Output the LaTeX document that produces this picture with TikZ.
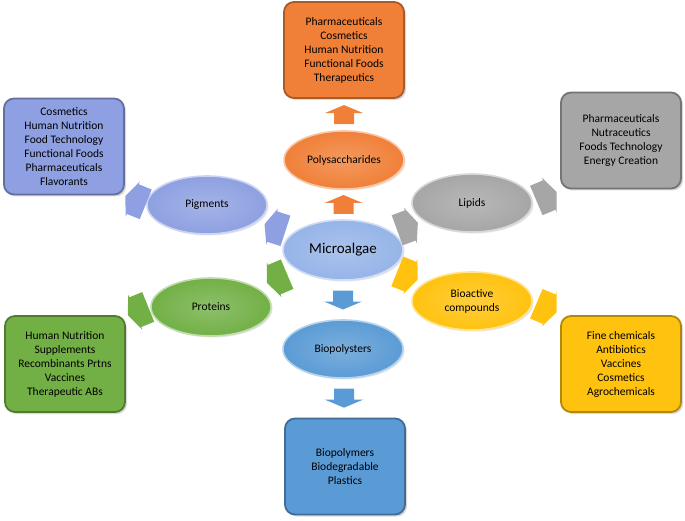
\documentclass[tikz,border=0pt]{standalone}
\usepackage{fontspec}
\setmainfont{Carlito}
\usepackage{xcolor}
\usetikzlibrary{shapes.geometric, shadows, calc}

\definecolor{orangeA}{RGB}{240,128,56}
\definecolor{violetA}{RGB}{142,160,225}
\definecolor{grayA}{RGB}{166,166,166}
\definecolor{greenA}{RGB}{114,176,70}
\definecolor{yellowA}{RGB}{255,194,14}
\definecolor{blueA}{RGB}{91,155,213}
\definecolor{skyA}{RGB}{150,180,232}

\begin{document}
\begin{tikzpicture}[x=1pt, y=-1pt,
    topic/.style={ellipse, minimum width=120, minimum height=58, inner sep=0pt, align=center,
      font=\fontsize{11.5}{14}\selectfont, draw=#1!45!white, line width=1.6pt,
      inner color=#1!80!white, outer color=#1,
      drop shadow={opacity=0.2, shadow xshift=1.5pt, shadow yshift=-1.5pt}},
    appbox/.style={rectangle, rounded corners=10pt, minimum width=120, minimum height=96,
      inner sep=2pt, align=center, font=\fontsize{11.5}{14}\selectfont, fill=#1,
      draw=#1!70!black, line width=1.8pt,
      drop shadow={opacity=0.3, shadow xshift=2pt, shadow yshift=-2pt}},
    vflow/.pic={\fill (-9.5,-10) -- (1.5,-10) -- (1.5,-19) -- (9.5,0)
      -- (1.5,19) -- (1.5,10) -- (-9.5,10) -- cycle;},
    dflow/.pic={\fill (-11,-16) -- (3,-16) -- (3,-19) -- (11,0)
      -- (3,19) -- (3,16) -- (-11,16) -- cycle;}]
  \useasboundingbox (0,0) rectangle (685,521);
  % Centro e produtos
  \node[topic=skyA, font=\fontsize{15}{18}\selectfont, minimum height=60] (micro) at (343,250) {Microalgae};
  \node[topic=orangeA] (poly) at (344,160) {Polysaccharides};
  \node[topic=violetA] (pig) at (207,205) {Pigments};
  \node[topic=grayA] (lip) at (472,203) {Lipids};
  \node[topic=greenA] (prot) at (211,307) {Proteins};
  \node[topic=yellowA] (bio) at (472,301) {Bioactive\\compounds};
  \node[topic=blueA] (bpol) at (343,349) {Biopolysters};
  % Aplicacoes
  \node[appbox=orangeA] (polyapp) at (344,50) {Pharmaceuticals\\Cosmetics\\Human Nutrition\\Functional Foods\\Therapeutics};
  \node[appbox=violetA] (pigapp) at (64,146.5) {Cosmetics\\Human Nutrition\\Food Technology\\Functional Foods\\Pharmaceuticals\\Flavorants};
  \node[appbox=grayA] (lipapp) at (621,140.5) {Pharmaceuticals\\Nutraceutics\\Foods Technology\\Energy Creation};
  \node[appbox=greenA] (protapp) at (65,364) {Human Nutrition\\Supplements\\Recombinants Prtns\\Vaccines\\Therapeutic ABs};
  \node[appbox=yellowA] (bioapp) at (621,364) {Fine chemicals\\Antibiotics\\Vaccines\\Cosmetics\\Agrochemicals};
  \node[appbox=blueA] (bpolapp) at (345,466.5) {Biopolymers\\Biodegradable\\Plastics};
  % Setas verticais
  \pic[fill=orangeA, rotate=90] (upa) at ($(micro.north)!0.5!(poly.south)$) {vflow};
  \pic[fill=orangeA, rotate=90] (upb) at ($(poly.north)!0.5!(polyapp.south)$) {vflow};
  \pic[fill=blueA, rotate=-90] (downa) at ($(micro.south)!0.5!(bpol.north)$) {vflow};
  \pic[fill=blueA, rotate=-90] (downb) at ($(bpol.south)!0.5!(bpolapp.north)$) {vflow};
  % Setas diagonais
  \foreach \dst/\ang/\col in {pig/162/violetA, prot/203/greenA, lip/20/grayA, bio/-22/yellowA}
    \pic[fill=\col, rotate=\ang] (to\dst) at ($(micro)!0.5!(\dst)$) {dflow};
  \pic[fill=violetA, rotate=158] (pigout) at ($(pig.west)!0.5!(pigapp.south east)$) {dflow};
  \pic[fill=greenA, rotate=202] (protout) at ($(prot.west)!0.5!(protapp.north east)$) {dflow};
  \pic[fill=grayA, rotate=23] (lipout) at ($(lip.east)!0.5!(lipapp.south west)$) {dflow};
  \pic[fill=yellowA, rotate=-23] (bioout) at ($(bio.east)!0.5!(bioapp.north west)$) {dflow};
\end{tikzpicture}
\end{document}
